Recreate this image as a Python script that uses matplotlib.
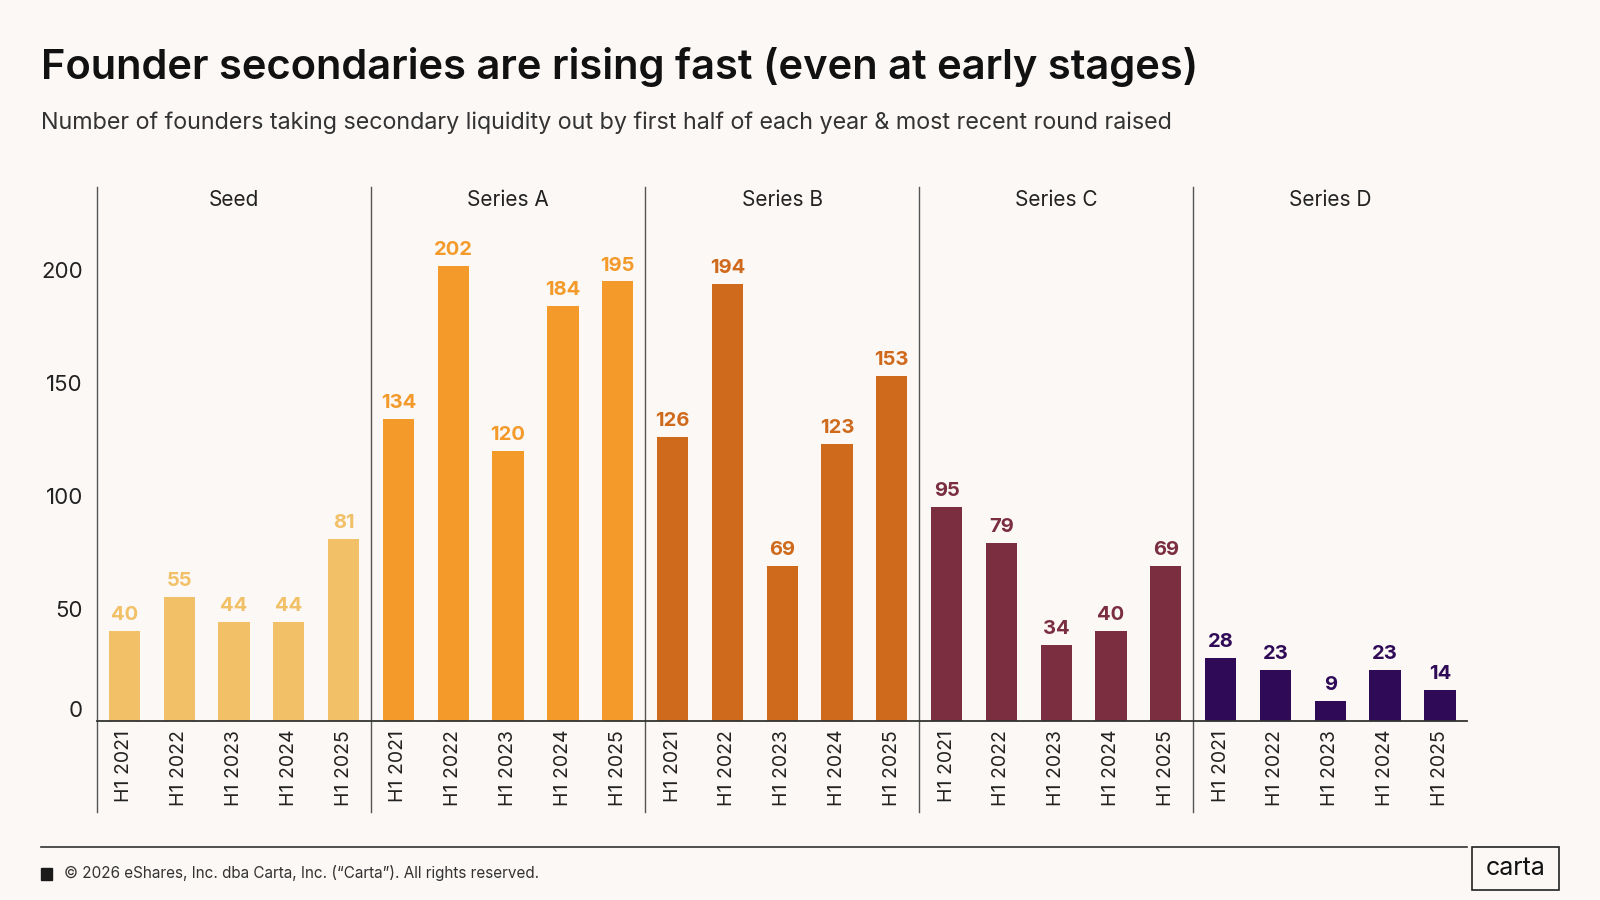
import matplotlib
matplotlib.use("Agg")
import matplotlib.pyplot as plt
from matplotlib.patches import Rectangle

# ---- data ----
stages = ["Seed", "Series A", "Series B", "Series C", "Series D"]
periods = ["H1 2021", "H1 2022", "H1 2023", "H1 2024", "H1 2025"]
seed = [40, 55, 44, 44, 81]
series_a = [134, 202, 120, 184, 195]
series_b = [126, 194, 69, 123, 153]
series_c = [95, 79, 34, 40, 69]
series_d = [28, 23, 9, 23, 14]
values = [seed, series_a, series_b, series_c, series_d]
colors = ["#F2C067", "#F39A2A", "#CF691B", "#7A2E3F", "#2F0B57"]
yticks = [0, 50, 100, 150, 200]

BG = "#FBF8F6"
FONT = ["Inter", "DejaVu Sans"]
plt.rcParams["font.family"] = FONT

W, H = 1568.0, 882.0
def fx(x): return x / W
def fy(y): return 1 - y / H

fig = plt.figure(figsize=(16, 9), dpi=100, facecolor=BG)
ax = fig.add_axes([fx(95), fy(707), fx(1438) - fx(95), fy(183) - fy(707)])
ax.set_facecolor(BG)

YMAX = 237
YMIN_LINE = -40
n = len(periods)
xs_all = []
labels_all = []
for g, (stage, vals, col) in enumerate(zip(stages, values, colors)):
    xs = [g * n + i for i in range(n)]
    ax.bar(xs, vals, width=0.57, color=col, zorder=2)
    for x, v in zip(xs, vals):
        ax.annotate(str(v), (x, v), xytext=(0, 5), textcoords="offset points",
                    ha="center", va="bottom", fontsize=14.5, fontweight="bold",
                    color=col, annotation_clip=False)
    ax.text(g * n + (n - 1) / 2, 231, stage, ha="center", va="center",
            fontsize=15, color="#222222", clip_on=False)
    ax.plot([g * n - 0.5, g * n - 0.5], [YMIN_LINE, YMAX], color="#555555",
            lw=1.0, clip_on=False, zorder=1)
    xs_all += xs
    labels_all += periods

ax.plot([-0.5, len(xs_all) - 0.5], [0, 0], color="#333333", lw=1.3,
        clip_on=False, zorder=3)

ax.set_xlim(-0.5, len(xs_all) - 0.5)
ax.set_ylim(0, YMAX)
ax.set_xticks(xs_all)
ax.set_xticklabels(labels_all, rotation=90, fontsize=14, color="#222222")
ax.set_yticks(yticks)
ax.set_yticklabels([str(t) for t in yticks], fontsize=16, color="#222222")
ax.get_yticklabels()[0].set_va("bottom")
ax.tick_params(axis="both", length=0)
ax.tick_params(axis="x", pad=6)
ax.tick_params(axis="y", pad=10)
for s in ax.spines.values():
    s.set_visible(False)

# Titles
fig.text(fx(40), fy(66), "Founder secondaries are rising fast (even at early stages)",
         fontsize=30, fontweight="semibold", color="#111111", ha="left", va="center")
fig.text(fx(40), fy(120), "Number of founders taking secondary liquidity out by first half of each year & most recent round raised",
         fontsize=16.8, color="#333333", ha="left", va="center")

# Footer
fig.add_artist(plt.Line2D([fx(40), fx(1438)], [fy(830), fy(830)], color="#333333", lw=1.2))
fig.add_artist(Rectangle((fx(40), fy(862)), fx(11), 11 / H, color="#1a1a1a"))
fig.text(fx(63), fy(856), "\u00a9 2026 eShares, Inc. dba Carta, Inc. (\u201cCarta\u201d). All rights reserved.",
         fontsize=11, color="#333333", ha="left", va="center")
fig.add_artist(Rectangle((fx(1443), fy(872)), fx(85), 42 / H, facecolor="none",
                         edgecolor="#222222", lw=1.2))
fig.text(fx(1485.5), fy(851), "carta", fontsize=18, color="#111111", ha="center", va="center")

fig.savefig("out.png", dpi=100, facecolor=BG)
